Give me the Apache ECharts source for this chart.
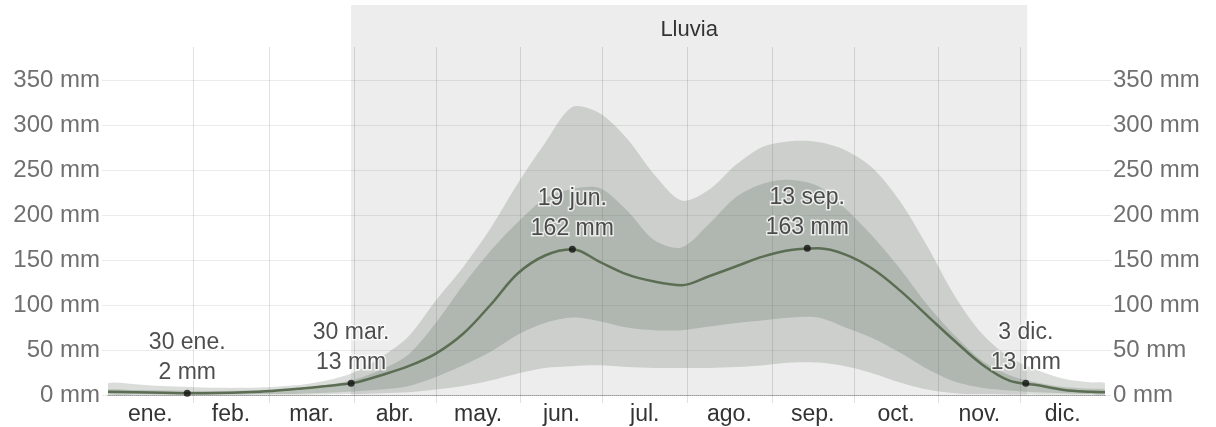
<!DOCTYPE html>
<html>
<head>
<meta charset="utf-8">
<script src="https://cdn.jsdelivr.net/npm/echarts@6/dist/echarts.min.js"></script>
<style>
  html, body { margin: 0; padding: 0; background: #fff; }
  #main { width: 1216px; height: 427px; }
</style>
</head>
<body>
<div id="main"></div>
<script>
// day of year (0 = 1 ene.) for each reading
var days = [0, 10, 20, 30, 40, 50, 60, 70, 80, 90, 100, 110, 120, 130, 140, 150, 160, 170, 180,
  190, 200, 210, 220, 230, 240, 250, 260, 270, 280, 290, 300, 310, 320, 330, 340, 350, 360, 365];
// mean rainfall (mm) and percentile bands
var meanRain = [3.5, 3, 2.5, 2, 2.2, 3, 4.5, 7, 10, 13.5, 22, 32, 46, 68, 100, 135, 155, 162, 148,
  134, 126, 122, 132, 143, 154, 161, 163, 156, 140, 116, 88, 60, 34, 16, 11, 5.5, 3.5, 3];
var p90 = [13, 12, 10, 9, 8, 8, 9, 11, 16, 25, 42, 65, 105, 142, 185, 235, 280, 320, 313,
  285, 245, 216, 228, 256, 276, 282, 281, 272, 252, 215, 165, 110, 68, 42, 28, 18, 14, 13];
var p75 = [6, 5.5, 5, 4.5, 4.5, 5, 6, 8, 11, 17, 28, 45, 80, 122, 160, 192, 218, 229, 230,
  205, 172, 164, 190, 220, 235, 239, 232, 207, 176, 140, 100, 66, 38, 22, 14, 9, 7, 6];
var p25 = [1, 0.8, 0.6, 0.5, 0.5, 0.6, 1, 1.5, 2.5, 4, 6, 10, 20, 33, 48, 67, 80, 86, 82,
  75, 72, 72, 76, 80, 83, 86, 86, 75, 63, 47, 29, 15, 8, 5, 3, 2, 1, 1];
var p10 = [0.3, 0.3, 0.2, 0.2, 0.2, 0.2, 0.3, 0.4, 0.6, 1, 2, 3, 6, 10, 16, 24, 30, 32, 33,
  31, 30, 30, 30, 31, 33, 36, 36, 32, 24, 14, 6, 2, 1, 0.5, 0.4, 0.3, 0.3, 0.3];

var monthNames = ['ene.', 'feb.', 'mar.', 'abr.', 'may.', 'jun.', 'jul.', 'ago.', 'sep.', 'oct.', 'nov.', 'dic.'];
var monthStarts = [0, 31, 59, 90, 120, 151, 181, 212, 243, 273, 304, 334, 365];

var markerDays = [29, 89, 170, 256, 336];
var markerValues = [2, 13, 162, 163, 13];
var markerDates = ['30 ene.', '30 mar.', '19 jun.', '13 sep.', '3 dic.'];

var wetSeason = [89, 336.5];
var seasonName = 'Lluvia';

var FONT = '"Liberation Sans", Arial, sans-serif';

var monthMids = monthNames.map(function (m, i) { return (monthStarts[i] + monthStarts[i + 1]) / 2; });

// filled band between two percentile curves, drawn once from the whole arrays
function bandSeries(name, lo, hi, color) {
  return {
    name: name, type: 'custom', xAxisIndex: 2, yAxisIndex: 2, z: 2, silent: true, clip: true,
    data: days.map(function (d, i) { return [d, lo[i], hi[i]]; }),
    encode: { x: 0, y: [1, 2] },
    renderItem: function (params, api) {
      if (params.dataIndex !== 0) return;
      var top = days.map(function (d, i) { return api.coord([d, hi[i]]); });
      var bottom = days.map(function (d, i) { return api.coord([d, lo[i]]); }).reverse();
      return {
        type: 'polygon',
        shape: { points: top.concat(bottom), smooth: 0.3 },
        style: { fill: color }
      };
    }
  };
}

var chart = echarts.init(document.getElementById('main'));

var option = {
  animation: false,
  grid: [
    { left: 108, right: 111, top: 5, bottom: 32 },   // season background
    { left: 108, right: 111, top: 47, bottom: 24 },  // month lines
    { left: 108, right: 111, top: 80, bottom: 32 }   // data
  ],
  xAxis: [
    { gridIndex: 0, type: 'value', min: 0, max: 365, show: false },
    { gridIndex: 1, type: 'value', min: 0, max: 365, show: false },
    {
      gridIndex: 2, type: 'value', min: 0, max: 365,
      splitLine: { show: false },
      axisTick: { show: false },
      axisLine: { show: true, lineStyle: { color: '#9a9a9a', type: 'dotted', width: 1 } },
      axisLabel: {
        customValues: monthMids,
        formatter: function (v) {
          var i = monthMids.indexOf(v);
          return i >= 0 ? monthNames[i] : '';
        },
        color: '#333', fontSize: 23, fontFamily: FONT, margin: 8
      }
    }
  ],
  yAxis: [
    { gridIndex: 0, type: 'value', min: 0, max: 1, show: false },
    { gridIndex: 1, type: 'value', min: 0, max: 1, show: false },
    {
      gridIndex: 2, type: 'value', min: 0, max: 350, interval: 50, position: 'left',
      axisLine: { show: false },
      axisTick: { show: true, length: 6, lineStyle: { color: 'rgba(0,0,0,0.08)' } },
      splitLine: { show: true, lineStyle: { color: 'rgba(0,0,0,0.08)', width: 1 } },
      axisLabel: { formatter: '{value} mm', color: '#707070', fontSize: 24, fontFamily: FONT, margin: 8 }
    },
    {
      gridIndex: 2, type: 'value', min: 0, max: 350, interval: 50, position: 'right',
      axisLine: { show: false },
      axisTick: { show: true, length: 6, lineStyle: { color: 'rgba(0,0,0,0.08)' } },
      splitLine: { show: false },
      axisLabel: { formatter: '{value} mm', color: '#707070', fontSize: 24, fontFamily: FONT, margin: 8 }
    }
  ],
  series: [
    {
      type: 'custom', xAxisIndex: 0, yAxisIndex: 0, z: -1, silent: true,
      data: [wetSeason],
      renderItem: function (params, api) {
        var a = api.coord([api.value(0), 1]);
        var b = api.coord([api.value(1), 0]);
        return {
          type: 'group',
          children: [
            { type: 'rect', shape: { x: a[0], y: a[1], width: b[0] - a[0], height: b[1] - a[1] },
              style: { fill: '#ededed' } },
            { type: 'text', x: (a[0] + b[0]) / 2, y: a[1] + 25,
              style: { text: seasonName, fill: '#333', font: '22px ' + FONT, align: 'center', verticalAlign: 'middle' } }
          ]
        };
      }
    },
    {
      type: 'custom', xAxisIndex: 1, yAxisIndex: 1, z: 1, silent: true,
      data: monthStarts.slice(1, 12).map(function (d) { return [d]; }),
      renderItem: function (params, api) {
        var a = api.coord([api.value(0), 0]);
        var b = api.coord([api.value(0), 1]);
        var x = Math.round(a[0]) + 0.5;
        return { type: 'line', shape: { x1: x, y1: a[1], x2: x, y2: b[1] },
          style: { stroke: 'rgba(0,0,0,0.12)', lineWidth: 1 } };
      }
    },
    bandSeries('p10-p90', p10, p90, 'rgba(100,114,100,0.24)'),
    bandSeries('p25-p75', p25, p75, 'rgba(100,114,100,0.27)'),
    {
      name: 'media', type: 'line', xAxisIndex: 2, yAxisIndex: 2, z: 3,
      data: days.map(function (d, i) { return [d, meanRain[i]]; }),
      symbol: 'none', smooth: 0.35,
      lineStyle: { color: '#5b6d52', width: 2.5 }
    },
    {
      type: 'scatter', xAxisIndex: 2, yAxisIndex: 2, z: 5,
      data: markerDays.map(function (d, i) { return [d, markerValues[i]]; }),
      symbolSize: 7, itemStyle: { color: '#111' },
      label: {
        show: true, position: 'top', distance: 2,
        formatter: function (p) {
          return markerDates[p.dataIndex] + '\n' + markerValues[p.dataIndex] + ' mm';
        },
        color: '#222', fontSize: 23, lineHeight: 30, fontFamily: FONT,
        textBorderColor: 'rgba(255,255,255,0.9)', textBorderWidth: 3
      }
    }
  ]
};

chart.setOption(option);
</script>
</body>
</html>
